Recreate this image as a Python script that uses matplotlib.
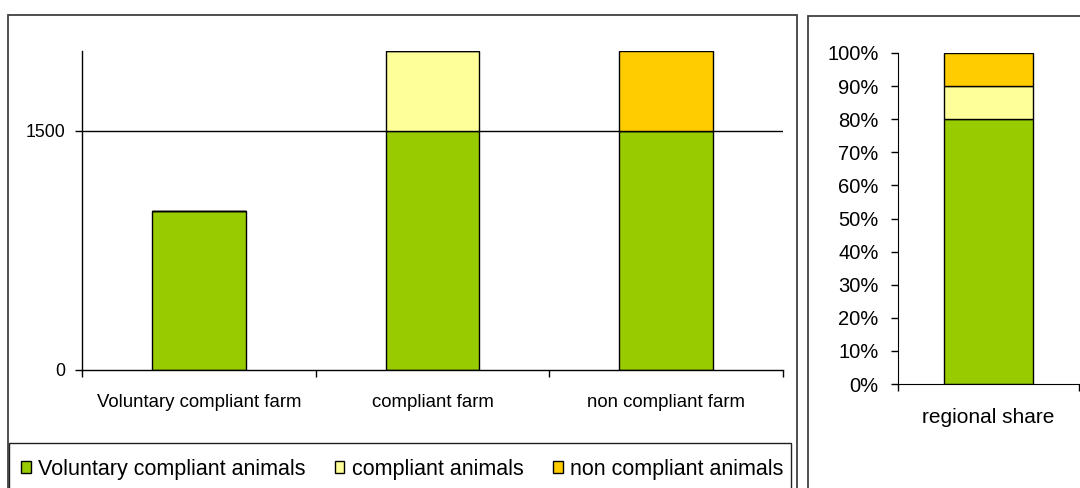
import matplotlib
matplotlib.use("Agg")
import matplotlib.pyplot as plt
from matplotlib.patches import Rectangle, Patch
from matplotlib.ticker import FuncFormatter

plt.rcParams['font.family'] = ['Liberation Sans', 'DejaVu Sans']

# data
farmTypes = ['Voluntary compliant farm', 'compliant farm', 'non compliant farm']
voluntaryAnimals = [1000, 1500, 1500]
compliantAnimals = [0, 500, 0]
nonCompliantAnimals = [0, 0, 500]

shareLabel = ['regional share']
shareVoluntary = [0.80]
shareCompliant = [0.10]
shareNonCompliant = [0.10]

seriesNames = ['Voluntary compliant animals', 'compliant animals', 'non compliant animals']
colors = ['#99CC00', '#FFFF99', '#FFCC00']

W, H = 1080, 488
fig = plt.figure(figsize=(W / 100, H / 100), dpi=100)


def fx(px):
    return px / W


def fy(py):
    return 1 - py / H


frameColor = '#404040'
# outer frames
fig.add_artist(Rectangle((fx(8), fy(500)), fx(797 - 8), (500 - 15) / H, transform=fig.transFigure,
                         fill=False, edgecolor=frameColor, lw=1.3))
fig.add_artist(Rectangle((fx(808), fy(500)), fx(1100 - 808), (500 - 16) / H, transform=fig.transFigure,
                         fill=False, edgecolor=frameColor, lw=1.3))
# legend box
fig.add_artist(Rectangle((fx(9), fy(500)), fx(791 - 9), (500 - 443) / H, transform=fig.transFigure,
                         fill=False, edgecolor='#202020', lw=1.0))

# left chart
ax = fig.add_axes([fx(82), fy(370), fx(783 - 82), (370 - 51) / H])
x = list(range(len(farmTypes)))
barW = 0.40
ax.axhline(1500, color='black', lw=1.0, zorder=0.5)
ax.bar(x, voluntaryAnimals, barW, color=colors[0], edgecolor='black', lw=1.0, zorder=2)
ax.bar(x, compliantAnimals, barW, bottom=voluntaryAnimals, color=colors[1], edgecolor='black', lw=1.0, zorder=2)
bottom2 = [a + b for a, b in zip(voluntaryAnimals, compliantAnimals)]
ax.bar(x, nonCompliantAnimals, barW, bottom=bottom2, color=colors[2], edgecolor='black', lw=1.0, zorder=2)
ax.set_xlim(-0.5, len(farmTypes) - 0.5)
ax.set_ylim(0, 2000)
ax.set_yticks([0, 1500])
ax.set_xticks(x)
ax.set_xticklabels(farmTypes, fontsize=13.4)
ax.set_xticks([-0.5, 0.5, 1.5, 2.5], minor=True)
ax.tick_params(axis='x', which='major', length=0, pad=17)
ax.tick_params(axis='x', which='minor', length=5, width=1, direction='out')
ax.tick_params(axis='y', length=5, width=1, direction='out', labelsize=12.8, pad=7)
for s in ['top', 'right']:
    ax.spines[s].set_visible(False)
for s in ['left', 'bottom']:
    ax.spines[s].set_linewidth(1.0)

# legend
handles = [Patch(facecolor=c, edgecolor='black', lw=1.0) for c in colors]
fig.legend(handles, seriesNames, loc='center left', bbox_to_anchor=(fx(21), fy(469)), ncol=3,
           frameon=False, fontsize=15.5, handlelength=0.45, handleheight=0.45, handletextpad=0.35,
           columnspacing=1.35, borderaxespad=0, borderpad=0)

# right chart
ax2 = fig.add_axes([fx(898), fy(384), fx(1079 - 898), (384 - 53) / H])
ax2.bar([0], shareVoluntary, 0.49, color=colors[0], edgecolor='black', lw=1.0)
ax2.bar([0], shareCompliant, 0.49, bottom=shareVoluntary, color=colors[1], edgecolor='black', lw=1.0)
b2 = [a + b for a, b in zip(shareVoluntary, shareCompliant)]
ax2.bar([0], shareNonCompliant, 0.49, bottom=b2, color=colors[2], edgecolor='black', lw=1.0)
ax2.set_xlim(-0.5, 0.5)
ax2.set_ylim(0, 1)
ax2.set_yticks([i / 10 for i in range(11)])
ax2.yaxis.set_major_formatter(FuncFormatter(lambda v, p: f"{v * 100:.0f}%"))
ax2.set_xticks([0])
ax2.set_xticklabels(shareLabel, fontsize=15)
ax2.set_xticks([-0.5, 0.5], minor=True)
ax2.tick_params(axis='x', which='major', length=0, pad=17)
ax2.tick_params(axis='x', which='minor', length=5, width=1, direction='out')
ax2.tick_params(axis='y', length=5, width=1, direction='out', labelsize=14.5, pad=9)
for s in ['top', 'right']:
    ax2.spines[s].set_visible(False)

fig.savefig('out.png', dpi=100)
